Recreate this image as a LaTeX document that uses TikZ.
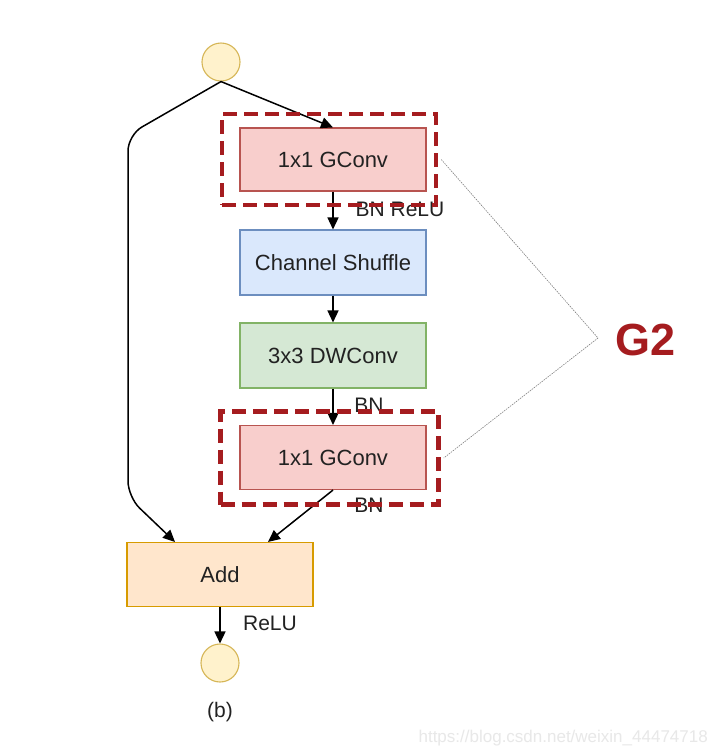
\documentclass[tikz,border=0pt]{standalone}
\usepackage{fontspec}
\setmainfont{Liberation Sans}
\usetikzlibrary{arrows.meta}
\definecolor{pinkf}{HTML}{F8CECC}\definecolor{pinkd}{HTML}{B85450}
\definecolor{bluef}{HTML}{DAE8FC}\definecolor{blued}{HTML}{6C8EBF}
\definecolor{greenf}{HTML}{D5E8D4}\definecolor{greend}{HTML}{82B366}
\definecolor{orf}{HTML}{FFE6CC}\definecolor{ord}{HTML}{D79B00}
\definecolor{circf}{HTML}{FFF2CC}\definecolor{circd}{HTML}{D6B656}
\definecolor{gred}{HTML}{A51C1F}
\definecolor{txt}{HTML}{222222}
\begin{document}
\begin{tikzpicture}[x=1pt,y=-1pt,
  blk/.style={draw,line width=1.1pt,minimum width=186pt,inner sep=0pt,text=txt,font=\fontsize{22}{26}\selectfont},
  circ/.style={circle,draw=circd,fill=circf,line width=1.1pt,minimum size=38pt,inner sep=0pt},
  lbl/.style={text=txt,inner sep=0pt,font=\fontsize{21}{25}\selectfont},
  conn/.style={line width=1.5pt,-{Triangle[length=12pt,width=11pt]}},
  grp/.style={draw=gred,line width=4.5pt,dash pattern=on 14pt off 7pt,minimum width=214pt,minimum height=91pt,inner sep=0pt},
  thin/.style={draw=gray,line width=0.6pt,dash pattern=on 1.5pt off 1pt}]
\useasboundingbox (0,0) rectangle (716,756);
\fill[white] (0,0) rectangle (716,756);
\node[circ] (in) at (221,62) {};
\node[blk,fill=pinkf,draw=pinkd,minimum height=63pt] (g1) at (333,159.5) {1x1 GConv};
\node[blk,fill=bluef,draw=blued,minimum height=65pt] (cs) at (333,262.5) {Channel Shuffle};
\node[blk,fill=greenf,draw=greend,minimum height=65pt] (dw) at (333,355.5) {3x3 DWConv};
\node[blk,fill=pinkf,draw=pinkd,minimum height=64pt] (g2) at (333,457.5) {1x1 GConv};
\node[blk,fill=orf,draw=ord,minimum height=64pt] (add) at (220,574.5) {Add};
\node[circ] (out) at (220,663) {};
\coordinate (c1) at (128,135);
\coordinate (c2) at (128,497);
\draw[conn] (in.south) -- (g1.north);
\draw[conn,rounded corners=16pt] (in.south) -- (c1) -- (c2) -- ([xshift=-45pt]add.north);
\draw[conn] (g1.south) -- (cs.north);
\draw[conn] (cs.south) -- (dw.north);
\draw[conn] (dw.south) -- (g2.north);
\draw[conn] (g2.south) -- ([xshift=48pt]add.north);
\draw[conn] (add.south) -- (out.north);
\node[lbl] (l1) at (400,209) {BN ReLU};
\node[lbl] (l2) at (369,405) {BN};
\node[lbl] (l3) at (369,505) {BN};
\node[lbl] (l4) at (270,623.5) {ReLU};
\node[lbl] (cap) at (220,712) {(b)};
\node[grp] (d1) at (329,159.5) {};
\node[grp,minimum width=218pt,minimum height=93pt] (d2) at (329.5,458) {};
\coordinate (v) at (598,338);
\draw[thin] ([xshift=3pt]d1.east) -- (v) -- ([xshift=3pt]d2.east);
\node[text=gred,font=\fontsize{45}{50}\selectfont\bfseries,inner sep=0pt] (G) at (646,340) {G2};
\node[text=black!9,font=\fontsize{17}{20}\selectfont,inner sep=0pt,anchor=east] (wm) at (708,738) {https://blog.csdn.net/weixin\_44474718};
\end{tikzpicture}
\end{document}
